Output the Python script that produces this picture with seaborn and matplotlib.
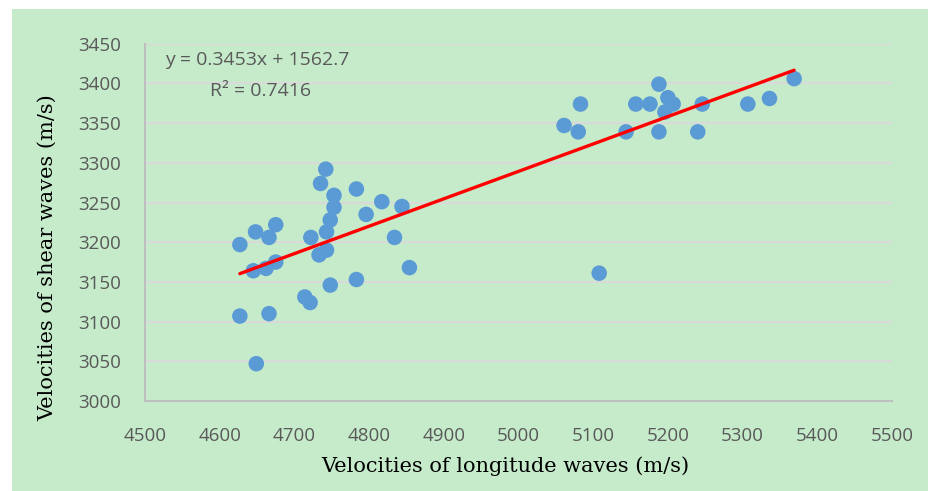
import numpy as np
import pandas as pd
import matplotlib
matplotlib.use("Agg")
import matplotlib.pyplot as plt
import seaborn as sns
from matplotlib.patches import Rectangle

# Data
vp = [4742, 4735, 4753, 4753, 4748, 4743, 4722, 4783, 4817, 4844, 4796, 4834,
      4854, 4783, 4748, 4714, 4721, 4743, 4733, 4627, 4648, 4675, 4666, 4645,
      4662, 4675, 4627, 4666, 4649,
      5061, 5080, 5083, 5144, 5157, 5176, 5188, 5188, 5200, 5207, 5196, 5246,
      5240, 5307, 5336, 5369, 5108]
vs = [3292, 3274, 3259, 3244, 3228, 3213, 3206, 3267, 3251, 3245, 3235, 3206,
      3168, 3153, 3146, 3131, 3124, 3190, 3184, 3197, 3213, 3222, 3206, 3164,
      3167, 3175, 3107, 3110, 3047,
      3347, 3339, 3374, 3339, 3374, 3374, 3399, 3339, 3382, 3374, 3364, 3374,
      3339, 3374, 3381, 3406, 3161]
slope = 0.3453
intercept = 1562.7
r2 = 0.7416
x_ticks = [4500, 4600, 4700, 4800, 4900, 5000, 5100, 5200, 5300, 5400, 5500]
y_ticks = [3000, 3050, 3100, 3150, 3200, 3250, 3300, 3350, 3400, 3450]

df = pd.DataFrame({"vp": vp, "vs": vs})
xfit = np.array([min(vp), max(vp)])
fit = pd.DataFrame({"x": xfit, "y": slope * xfit + intercept})

bg = "#C6EBCB"
sns.set_style("white")
fig = plt.figure(figsize=(9.29, 4.91), dpi=100)
fig.patch.set_facecolor("white")
fig.patches.append(Rectangle((12 / 929, 0), 1, 1 - 9 / 491, transform=fig.transFigure,
                             facecolor=bg, edgecolor="none", zorder=-10))
ax = fig.add_axes([145 / 929, 1 - 401 / 491, 747 / 929, (401 - 43.7) / 491])
ax.set_facecolor(bg)

sns.scatterplot(data=df, x="vp", y="vs", ax=ax, s=125, color="#5B9BD5",
                edgecolor="none", linewidth=0, zorder=3)
sns.lineplot(data=fit, x="x", y="y", ax=ax, color="#FF0000", linewidth=2.4, zorder=4)

ax.set_xlim(4500, 5500)
ax.set_ylim(3000, 3450)
ax.set_xticks(x_ticks)
ax.set_yticks(y_ticks)
ax.tick_params(axis="both", length=0, labelsize=13.5, labelcolor="#595959")
ax.tick_params(axis="x", pad=19)
ax.tick_params(axis="y", pad=17)
for lab in ax.get_xticklabels() + ax.get_yticklabels():
    lab.set_fontfamily("Open Sans")
ax.grid(axis="y", color="#D9D9D9", linewidth=1.5)
ax.set_axisbelow(True)
for s in ["top", "right"]:
    ax.spines[s].set_visible(False)
for s in ["left", "bottom"]:
    ax.spines[s].set_color("#BFBFBF")
    ax.spines[s].set_linewidth(1.5)

ax.set_xlabel("Velocities of longitude waves (m/s)", fontsize=15,
              fontfamily="DejaVu Serif", color="black")
ax.set_ylabel("Velocities of shear waves (m/s)", fontsize=15,
              fontfamily="DejaVu Serif", color="black")
ax.xaxis.set_label_coords(0.482, -0.155)
ax.yaxis.set_label_coords(-0.118, 0.40)

ax.text(4527, 3429, f"y = {slope}x + {intercept}", fontsize=14, color="#595959",
        fontfamily="Open Sans", va="center", ha="left")
ax.text(4587, 3391, f"R² = {r2}", fontsize=14, color="#595959",
        fontfamily="Open Sans", va="center", ha="left")

fig.savefig("out.png", dpi=100, facecolor=fig.get_facecolor())
